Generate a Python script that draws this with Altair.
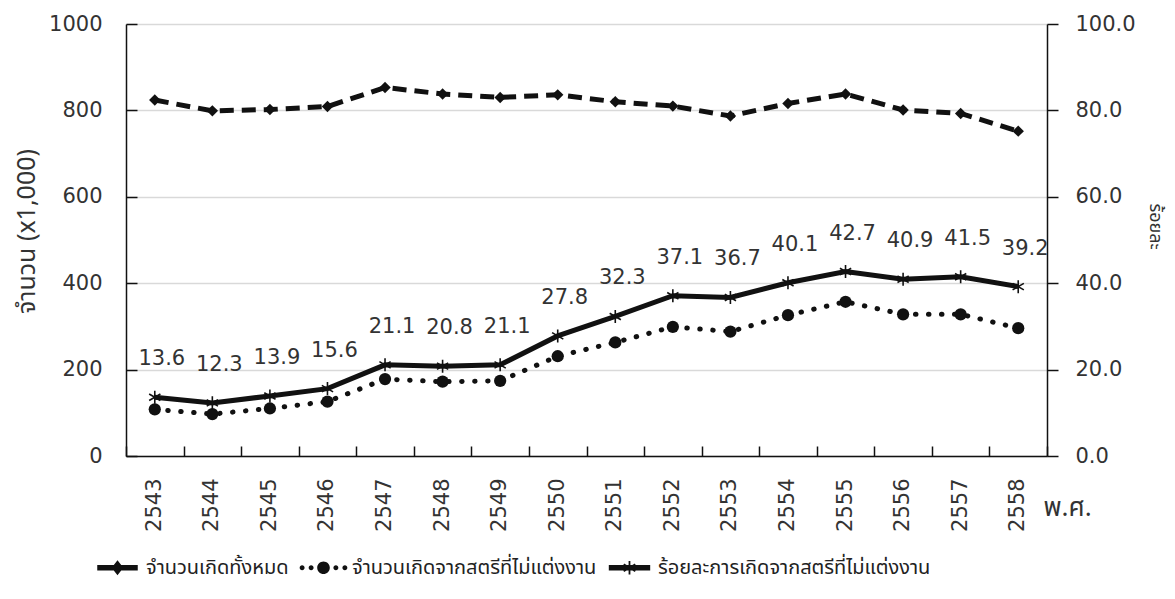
import math
import altair as alt
import pandas as pd

# ---------------- data ----------------
years = [str(y) for y in range(2543, 2559)]
total_births = [824, 799, 802, 809, 853, 838, 830, 836, 820, 810, 787, 816, 838, 801, 793, 752]
unmarried_births = [108, 97, 110, 126, 178, 172, 174, 231, 263, 299, 288, 326, 357, 328, 328, 296]
pct_unmarried = [13.6, 12.3, 13.9, 15.6, 21.1, 20.8, 21.1, 27.8, 32.3, 37.1, 36.7, 40.1, 42.7, 40.9, 41.5, 39.2]
series_names = [
    "จำนวนเกิดทั้งหมด",
    "จำนวนเกิดจากสตรีที่ไม่แต่งงาน",
    "ร้อยละการเกิดจากสตรีที่ไม่แต่งงาน",
]
left_ticks = [0, 200, 400, 600, 800, 1000]
right_ticks = [0, 20, 40, 60, 80, 100]
x_title = "พ.ศ."
left_title = "จำนวน (x1,000)"
right_title = "ร้อยละ"

# ---------------- styling ----------------
W, H = 921, 432
INK = "#111111"
TXT = "#333333"
NUM_FONT = "DejaVu Sans"
THAI_FONT = "Noto Sans Thai, Tahoma, Noto Sans, DejaVu Sans, sans-serif"
GRID = "#d9d9d9"
NUM_SIZE = 21

df_total = pd.DataFrame({"year": years, "value": total_births})
df_unm = pd.DataFrame({"year": years, "value": unmarried_births})
df_pct = pd.DataFrame({"year": years, "value": pct_unmarried})
df_all = pd.DataFrame({
    "year": years * 3,
    "value": total_births + unmarried_births + pct_unmarried,
    "series": sum([[n] * len(years) for n in series_names], []),
})

xscale = alt.Scale(type="band", paddingInner=0, paddingOuter=0, domain=years)
lscale = alt.Scale(domain=[0, 1000], nice=False, zero=True)
rscale = alt.Scale(domain=[0, 100], nice=False, zero=True)


def X(axis=None):
    return alt.X("year:N", sort=years, scale=xscale, axis=axis, title=None)


def YL(axis=None):
    return alt.Y("value:Q", scale=lscale, axis=axis, title=None)


def YR(axis=None):
    return alt.Y("value:Q", scale=rscale, axis=axis, title=None)


# ---------- legend symbol paths (unit = half symbol width) ----------
def rect(cx, cy, L, w, ang):
    c, s = math.cos(math.radians(ang)), math.sin(math.radians(ang))
    nx, ny = -s, c
    pts = [(-L * c - w * nx, -L * s - w * ny), (L * c - w * nx, L * s - w * ny),
           (L * c + w * nx, L * s + w * ny), (-L * c + w * nx, -L * s + w * ny)]
    return "M" + "L".join(f"{cx + px:.3f},{cy + py:.3f}" for px, py in pts) + "Z"


def circ(cx, cy, r):
    return (f"M{cx - r:.3f},{cy:.3f}a{r:.3f},{r:.3f} 0 1,0 {2 * r:.3f},0"
            f"a{r:.3f},{r:.3f} 0 1,0 {-2 * r:.3f},0Z")


sym_total = rect(0, 0, 0.9, 0.12, 0) + "M0,-0.33L0.26,0L0,0.33L-0.26,0Z"
sym_unm = "".join(circ(x, 0, 0.11) for x in (-0.95, -0.55, 0.55, 0.95)) + circ(0, 0, 0.28)
sym_pct = rect(0, 0, 0.92, 0.12, 0) + "".join(rect(0, 0, 0.3, 0.04, a) for a in (90, 30, -30))
asterisk = "M0,-1L0,1M-0.866,-0.5L0.866,0.5M-0.866,0.5L0.866,-0.5"

# ---------------- layers ----------------
bottom_axis = alt.Axis(
    title=x_title, labelAngle=-90, labelAlign="right", labelBaseline="middle",
    labelFont=NUM_FONT, labelFontSize=NUM_SIZE, labelColor=TXT, labelPadding=22,
    ticks=False, domainColor=INK, domainWidth=1.5, grid=False,
    titleX=917, titleY=51, titleAlign="left", titleBaseline="middle", titleAngle=0,
    titleFont=THAI_FONT, titleFontSize=26, titleFontWeight="normal", titleColor=TXT,
)
left_axis = alt.Axis(
    orient="left", values=left_ticks, format="d", grid=True, gridColor=GRID, gridWidth=1.5,
    ticks=False, domainColor=INK, domainWidth=1.5,
    labelFont=NUM_FONT, labelFontSize=NUM_SIZE, labelColor=TXT, labelPadding=24,
    title=left_title, titleFont=THAI_FONT, titleFontSize=25, titleFontWeight="normal",
    titleColor=TXT, titleAngle=-90, titleX=-100, titleY=207,
    titleAlign="center", titleBaseline="middle",
)
right_axis = alt.Axis(
    orient="right", values=right_ticks, format=".1f", grid=False,
    tickSize=11, tickColor=INK, tickWidth=1.5, domainColor=INK, domainWidth=1.5,
    labelFont=NUM_FONT, labelFontSize=NUM_SIZE, labelColor=TXT, labelPadding=17,
    title=right_title, titleAngle=90, titleFont=THAI_FONT, titleFontSize=18,
    titleFontWeight="normal", titleColor=TXT, titleX=107, titleY=202,
    titleAlign="center", titleBaseline="middle",
)
top_tick_axis = alt.Axis(
    orient="top", offset=-H, domain=False, labels=False, ticks=True, tickSize=10,
    tickColor=INK, tickWidth=1.5, tickBand="extent", grid=False,
)
inner_tick_axis = alt.Axis(
    orient="right", offset=-W, values=left_ticks, domain=False, labels=False,
    ticks=True, tickSize=11, tickColor=INK, tickWidth=1.5, grid=False,
)

line_total = alt.Chart(df_total).mark_line(
    color=INK, strokeWidth=5, strokeDash=[14, 8]
).encode(x=X(bottom_axis), y=YL(left_axis))

pts_total = alt.Chart(df_total).mark_point(
    shape="diamond", filled=True, color=INK, size=130, opacity=1
).encode(x=X(), y=YL())

line_unm = alt.Chart(df_unm).mark_line(
    color=INK, strokeWidth=5, strokeDash=[0.5, 12.5], strokeCap="round"
).encode(x=X(), y=YL())

pts_unm = alt.Chart(df_unm).mark_point(
    shape="circle", filled=True, color=INK, size=150, opacity=1
).encode(x=X(), y=YL())

line_pct = alt.Chart(df_pct).mark_line(
    color=INK, strokeWidth=5
).encode(x=X(), y=YR(right_axis))

pts_pct = alt.Chart(df_pct).mark_point(
    shape=asterisk, filled=False, stroke=INK, strokeWidth=1.6, size=169, opacity=1
).encode(x=X(), y=YR())

text_pct = alt.Chart(df_pct).mark_text(
    dx=7, dy=-38, font=NUM_FONT, fontSize=NUM_SIZE, color=TXT
).encode(x=X(), y=YR(), text=alt.Text("value:Q", format=".1f"))

ghost = alt.Chart(df_all).mark_point(
    filled=True, color=INK, opacity=0
).encode(
    x=X(top_tick_axis),
    y=YL(inner_tick_axis),
    shape=alt.Shape(
        "series:N",
        scale=alt.Scale(domain=series_names, range=[sym_total, sym_unm, sym_pct]),
        legend=alt.Legend(
            orient="none", legendX=-31, legendY=521, direction="horizontal",
            title=None, symbolSize=2025, symbolOpacity=1, symbolStrokeWidth=0,
            symbolFillColor=INK, labelFont=THAI_FONT, labelFontSize=20,
            labelColor="#222222", labelOffset=6, columnPadding=10, labelLimit=600,
        ),
    ),
)

chart = alt.layer(
    line_total, line_unm, pts_unm, pts_total, line_pct, pts_pct, text_pct, ghost
).resolve_scale(
    y="independent"
).resolve_axis(
    x="independent", y="independent"
).properties(
    width=W, height=H,
    autosize=alt.AutoSizeParams(type="none"),
    padding={"left": 118, "top": 16, "right": 120, "bottom": 134},
).configure_view(stroke=None)

chart.save("out.html", embed_options={"renderer": "svg", "actions": False})
